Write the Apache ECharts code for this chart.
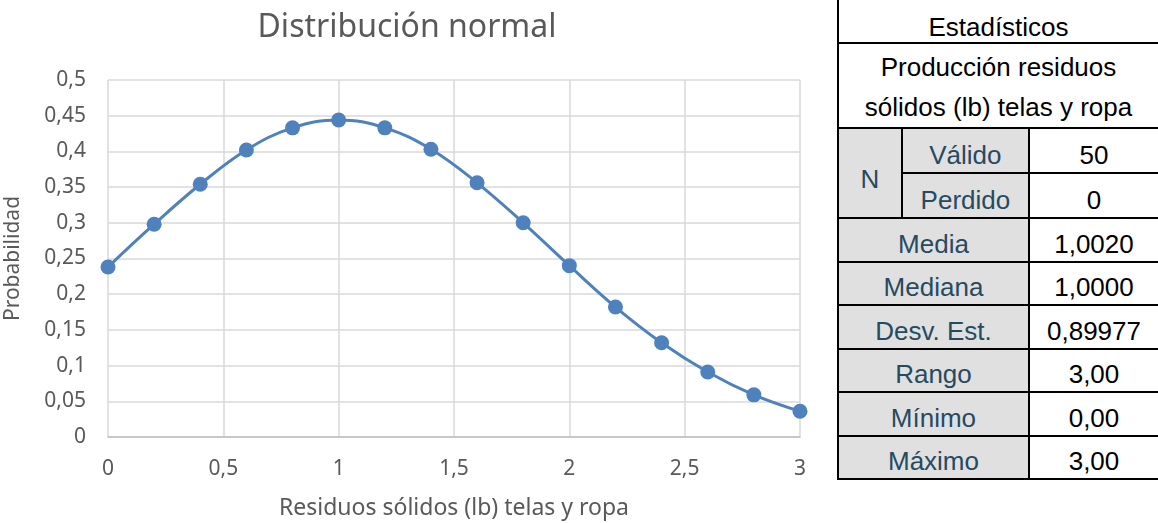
<!DOCTYPE html>
<html><head><meta charset="utf-8">
<script src="https://cdn.jsdelivr.net/npm/echarts@6/dist/echarts.min.js"></script>
<style>
html,body{margin:0;padding:0;background:#fff;width:1158px;height:523px;overflow:hidden;}
#chart{position:absolute;left:0;top:0;width:830px;height:523px;}
#tbl{position:absolute;left:837px;top:-2px;border-collapse:collapse;table-layout:fixed;}
#tbl td{border:2px solid #000;padding:8px 0 0 0;text-align:center;color:#000;font-family:"Liberation Sans",Arial,sans-serif;font-size:26px;line-height:30px;white-space:nowrap;}
#tbl td.lab{background:#e0e0e0;color:#264a60;}
</style></head><body>
<div id="chart"></div>
<table id="tbl"></table>
<script>
const xValues = [0, 0.2, 0.4, 0.6, 0.8, 1.0, 1.2, 1.4, 1.6, 1.8, 2.0, 2.2, 2.4, 2.6, 2.8, 3.0];
const probValues = [0.238, 0.298, 0.354, 0.402, 0.433, 0.444, 0.433, 0.403, 0.356, 0.300, 0.240, 0.182, 0.132, 0.091, 0.059, 0.036];
const titleText = "Distribución normal";
const xName = "Residuos sólidos (lb) telas y ropa";
const yName = "Probabilidad";
const tableTitle = "Estadísticos";
const tableVar = ["Producción residuos", "sólidos (lb) telas y ropa"];
const nLabels = ["Válido", "Perdido"];
const nValues = ["50", "0"];
const statLabels = ["Media", "Mediana", "Desv. Est.", "Rango", "Mínimo", "Máximo"];
const statValues = ["1,0020", "1,0000", "0,89977", "3,00", "0,00", "3,00"];

const fmt = v => String(+v.toFixed(2)).replace('.', ',');
const font = '"Noto Sans", "Open Sans", sans-serif';
const chart = echarts.init(document.getElementById('chart'), null, {renderer: 'canvas'});
chart.setOption({
  animation: false,
  title: {text: titleText, left: 402, top: 7, textAlign: 'center',
    textStyle: {fontFamily: font, fontSize: 32, fontWeight: 'normal', color: '#595959'}},
  grid: {left: 108, right: 30, top: 80, bottom: 86, outerBoundsMode: 'none', containLabel: false},
  xAxis: {type: 'value', min: 0, max: 3, interval: 0.5,
    name: xName, nameLocation: 'middle', nameGap: 60,
    nameTextStyle: {fontFamily: font, fontSize: 23, color: '#595959'},
    axisLine: {show: true, lineStyle: {color: '#bfbfbf', width: 1.5}},
    axisTick: {show: false},
    axisLabel: {formatter: fmt, margin: 22, fontFamily: font, fontSize: 21, color: '#595959'},
    splitLine: {show: true, lineStyle: {color: '#d9d9d9', width: 1.5}}},
  yAxis: {type: 'value', min: 0, max: 0.5, interval: 0.05,
    name: yName, nameLocation: 'middle', nameGap: 84, nameRotate: 90,
    nameTextStyle: {fontFamily: font, fontSize: 21, color: '#595959'},
    axisLine: {show: false}, axisTick: {show: false},
    axisLabel: {formatter: fmt, margin: 22, fontFamily: font, fontSize: 21, color: '#595959'},
    splitLine: {show: true, lineStyle: {color: '#d9d9d9', width: 1.5}}},
  series: [{type: 'line', smooth: 0.4, data: xValues.map((x, i) => [x, probValues[i]]),
    symbol: 'circle', symbolSize: 15,
    itemStyle: {color: '#4f81bd'}, lineStyle: {color: '#4f81bd', width: 3}}]
});

// Table
const t = document.getElementById('tbl');
let h = '<colgroup><col style="width:65px"><col style="width:128px"><col style="width:130px"></colgroup>';
h += `<tr style="height:45px"><td colspan="3" style="border-top:none;border-right:none;padding-top:13px">${tableTitle}</td></tr>`;
h += `<tr style="height:85px"><td colspan="3" style="border-right:none;line-height:40px;padding-top:3px">${tableVar[0]}<br>${tableVar[1]}</td></tr>`;
h += `<tr style="height:45px"><td class="lab" rowspan="2" style="padding-top:12px">N</td><td class="lab">${nLabels[0]}</td><td style="border-right:none">${nValues[0]}</td></tr>`;
h += `<tr style="height:45px"><td class="lab">${nLabels[1]}</td><td style="border-right:none">${nValues[1]}</td></tr>`;
statLabels.forEach((l, i) => {
  h += `<tr style="height:43.5px"><td class="lab" colspan="2">${l}</td><td style="border-right:none">${statValues[i]}</td></tr>`;
});
t.innerHTML = h;
</script>
</body></html>
